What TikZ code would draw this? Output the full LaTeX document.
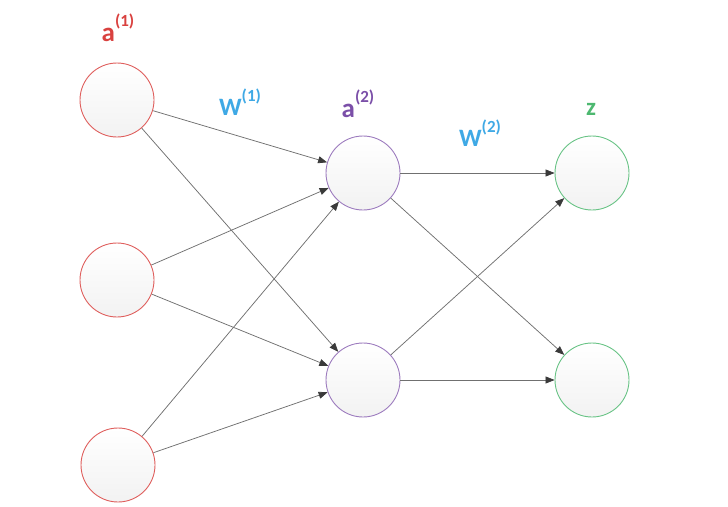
\documentclass[tikz,border=0pt]{standalone}
\usepackage{fontspec}
\setmainfont{Carlito}[BoldFont={Carlito Bold}]
\usetikzlibrary{arrows.meta}
\definecolor{inred}{HTML}{D9413F}
\definecolor{hidpurple}{HTML}{7B4FA8}
\definecolor{outgreen}{HTML}{4DB870}
\definecolor{wblue}{HTML}{3FA9E5}
\definecolor{edgegray}{HTML}{707070}
\definecolor{tipgray}{HTML}{3A3A3A}
\newcommand{\layersup}[1]{\raisebox{0.55em}{\fontsize{17}{17}\selectfont(#1)}}
\tikzset{
  neuron/.style={circle, minimum size=74pt, inner sep=0pt, line width=0.9pt,
    top color=white, bottom color=black!5},
  inlayer/.style={neuron, draw=inred!85},
  hidlayer/.style={neuron, draw=hidpurple!75},
  outlayer/.style={neuron, draw=outgreen!85},
  lbl/.style={font=\bfseries\fontsize{27}{27}\selectfont, inner sep=0pt}
}
\begin{document}
\begin{tikzpicture}[x=1pt, y=-1pt]
      \useasboundingbox (0,0) rectangle (728,506);
      \draw
        (117,100) node[inlayer] (i1){}
        (117,280) node[inlayer] (i2){}
        (118,465) node[inlayer] (i3){}
        (363,173) node[hidlayer] (h1){}
        (363,380) node[hidlayer] (h2){}
        (592,173) node[outlayer] (o1){}
        (592,380) node[outlayer] (o2){};
      \draw
        (118,28) node[lbl, text=inred] (la1){a\layersup{1}}
        (240,102) node[lbl, text=wblue, font=\bfseries\fontsize{25}{25}\selectfont] (lw1){W\layersup{1}}
        (358,104) node[lbl, text=hidpurple] (la2){a\layersup{2}}
        (480,133) node[lbl, text=wblue, font=\bfseries\fontsize{25}{25}\selectfont] (lw2){W\layersup{2}}
        (591,109) node[lbl, text=outgreen, font=\bfseries\fontsize{25}{25}\selectfont] (lz){z};
      \begin{scope}[-{Triangle[length=9pt,width=7pt,color=tipgray]}, draw=edgegray, line width=0.75pt]
        \draw (i1) to (h1);
        \draw (i1) to (h2);
        \draw (i2) to (h1);
        \draw (i2) to (h2);
        \draw (i3) to (h1);
        \draw (i3) to (h2);
        \draw (h1) to (o1);
        \draw (h1) to (o2);
        \draw (h2) to (o1);
        \draw (h2) to (o2);
      \end{scope}
    \end{tikzpicture}
\end{document}
